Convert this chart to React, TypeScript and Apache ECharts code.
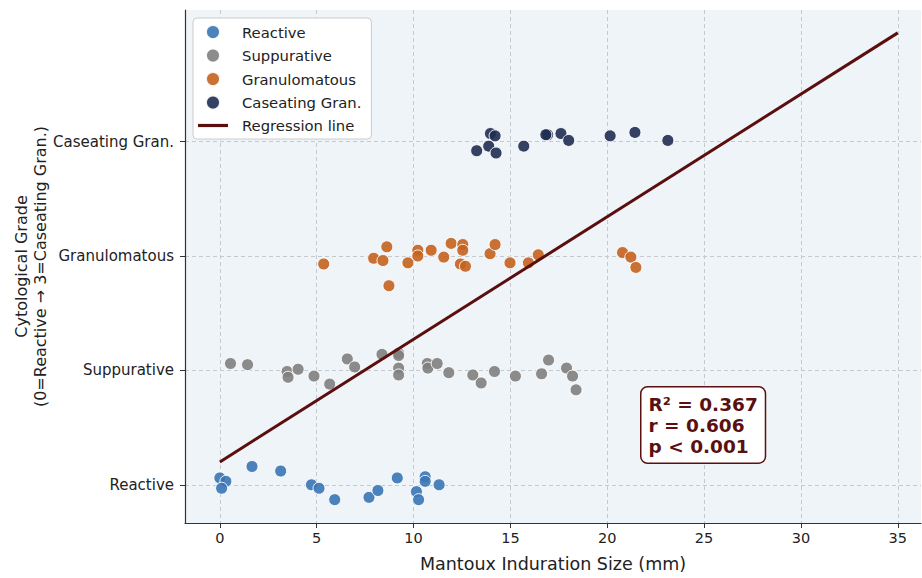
import React, { useEffect, useRef } from "react";
import * as echarts from "echarts";

const gradeLabels = ["Reactive", "Suppurative", "Granulomatous", "Caseating Gran."];
const gradeTicks = [0, 1, 2, 3];
const xTicks = [0, 5, 10, 15, 20, 25, 30, 35];

const reactiveX = [0.0, 0.31, 0.09, 1.66, 3.14, 4.73, 5.12, 5.93, 7.7, 8.16, 9.16, 10.15, 10.26, 10.6, 10.6, 11.32];
const reactiveY = [0.06, 0.03, -0.03, 0.16, 0.12, 0.0, -0.03, -0.13, -0.11, -0.05, 0.06, -0.06, -0.13, 0.07, 0.03, 0.0];

const suppX = [0.55, 1.43, 3.47, 3.52, 4.04, 4.86, 5.67, 6.58, 6.96, 8.37, 9.23, 9.23, 9.23, 9.23, 10.71, 10.74, 11.22, 11.82, 13.06, 13.49, 14.18, 15.26, 16.61, 16.97, 17.9, 18.21, 18.39];
const suppY = [1.06, 1.05, 0.99, 0.94, 1.01, 0.95, 0.88, 1.1, 1.03, 1.14, 1.15, 1.13, 1.02, 0.96, 1.06, 1.02, 1.06, 0.98, 0.96, 0.89, 0.99, 0.95, 0.97, 1.09, 1.02, 0.95, 0.83];

const granX = [5.36, 7.94, 8.42, 8.62, 8.73, 9.71, 10.22, 10.22, 10.91, 11.56, 11.94, 12.54, 12.54, 12.42, 12.68, 13.95, 14.21, 14.98, 15.93, 16.44, 20.79, 21.22, 21.48];
const granY = [1.93, 1.98, 1.96, 2.08, 1.74, 1.94, 2.05, 2.0, 2.05, 1.99, 2.11, 2.1, 2.05, 1.93, 1.91, 2.02, 2.1, 1.94, 1.94, 2.01, 2.03, 1.99, 1.9];

const caseX = [13.26, 13.88, 13.97, 14.21, 14.26, 15.69, 16.92, 16.83, 17.61, 18.01, 20.15, 21.43, 23.13];
const caseY = [2.92, 2.96, 3.07, 3.05, 2.9, 2.96, 3.06, 3.06, 3.07, 3.01, 3.05, 3.08, 3.01];

const regX = [0, 35];
const regY = [0.2, 3.95];

const statsLines = ["R² = 0.367", "r = 0.606", "p < 0.001"];

const zip = (xs: number[], ys: number[]) => xs.map((x, i) => [x, ys[i]]);

const FONT = "DejaVu Sans";

export default function App() {
  const ref = useRef<HTMLDivElement>(null);
  useEffect(() => {
    if (!ref.current) return;
    const chart = echarts.init(ref.current, undefined, { renderer: "svg" });
    const scatter = (name: string, xs: number[], ys: number[], color: string) => ({
      name,
      type: "scatter",
      data: zip(xs, ys),
      symbol: "circle",
      symbolSize: 12,
      itemStyle: { color, opacity: 0.9, borderColor: "#ffffff", borderWidth: 1 },
      z: 3,
    });
    chart.setOption({
      animation: false,
      backgroundColor: "#ffffff",
      textStyle: { fontFamily: FONT },
      grid: {
        left: 185,
        right: 1,
        top: 10,
        bottom: 55,
        show: true,
        backgroundColor: "#eff4f9",
        borderWidth: 0,
        containLabel: false,
        outerBoundsMode: "none",
      },
      legend: {
        orient: "vertical",
        left: 193,
        top: 18,
        padding: [6, 10, 6, 5],
        itemGap: 7.5,
        itemWidth: 30,
        itemHeight: 14,
        backgroundColor: "#ffffff",
        borderColor: "#cccccc",
        borderWidth: 1,
        borderRadius: 4,
        textStyle: { fontFamily: FONT, fontSize: 14.8, color: "#222", lineHeight: 14, padding: [0, 0, 0, 9] },
        data: [
          { name: "Reactive", icon: "circle" },
          { name: "Suppurative", icon: "circle" },
          { name: "Granulomatous", icon: "circle" },
          { name: "Caseating Gran.", icon: "circle" },
          { name: "Regression line", icon: "path://M0,0 L30,0 L30,3.2 L0,3.2 Z" },
        ],
      },
      xAxis: {
        type: "value",
        min: -1.8,
        max: 36.2,
        name: "Mantoux Induration Size (mm)",
        nameLocation: "middle",
        nameGap: 32,
        nameMoveOverlap: false,
        nameTextStyle: { fontFamily: FONT, fontSize: 17.5, color: "#222" },
        axisLine: { show: true, onZero: false, lineStyle: { color: "#333", width: 1.2 } },
        axisTick: { show: true, length: 5, customValues: xTicks, lineStyle: { color: "#333" } },
        axisLabel: { customValues: xTicks, fontFamily: FONT, fontSize: 14.5, color: "#222", margin: 7 },
        splitLine: { show: true, lineStyle: { type: [4, 3], color: "#c5c9ce", width: 1 } },
      },
      yAxis: {
        type: "value",
        min: -0.334,
        max: 4.15,
        name: "Cytological Grade\n(0=Reactive → 3=Caseating Gran.)",
        nameLocation: "middle",
        nameRotate: 90,
        nameGap: 135,
        nameMoveOverlap: false,
        nameTextStyle: { fontFamily: FONT, fontSize: 16, color: "#222", lineHeight: 19 },
        axisLine: { show: true, onZero: false, lineStyle: { color: "#333", width: 1.2 } },
        axisTick: { show: true, length: 5, customValues: gradeTicks, lineStyle: { color: "#333" } },
        axisLabel: {
          customValues: gradeTicks,
          fontFamily: FONT,
          fontSize: 15,
          color: "#222",
          margin: 11,
          formatter: (v: number) => gradeLabels[Math.round(v)] ?? "",
        },
        splitLine: { show: true, lineStyle: { type: [4, 3], color: "#c5c9ce", width: 1 } },
      },
      series: [
        scatter("Reactive", reactiveX, reactiveY, "#3a76b4"),
        scatter("Suppurative", suppX, suppY, "#7f7f7f"),
        scatter("Granulomatous", granX, granY, "#c4621f"),
        scatter("Caseating Gran.", caseX, caseY, "#1f2d52"),
        {
          name: "Regression line",
          type: "line",
          data: zip(regX, regY),
          symbol: "none",
          lineStyle: { color: "#5a0e0e", width: 3 },
          itemStyle: { color: "#5a0e0e" },
          z: 5,
        },
      ],
      graphic: [
        {
          type: "text",
          left: 640,
          top: 386,
          z: 10,
          style: {
            text: statsLines.join("\n"),
            font: `bold 18.5px "${FONT}"`,
            fill: "#5a1010",
            lineHeight: 21,
            backgroundColor: "#ffffff",
            borderColor: "#5a1010",
            borderWidth: 1.5,
            borderRadius: 6,
            padding: [6, 7, 6, 7],
          },
        },
      ],
    });
    return () => chart.dispose();
  }, []);
  return <div ref={ref} style={{ position: "fixed", left: 0, top: 0, width: 922, height: 578 }} />;
}
